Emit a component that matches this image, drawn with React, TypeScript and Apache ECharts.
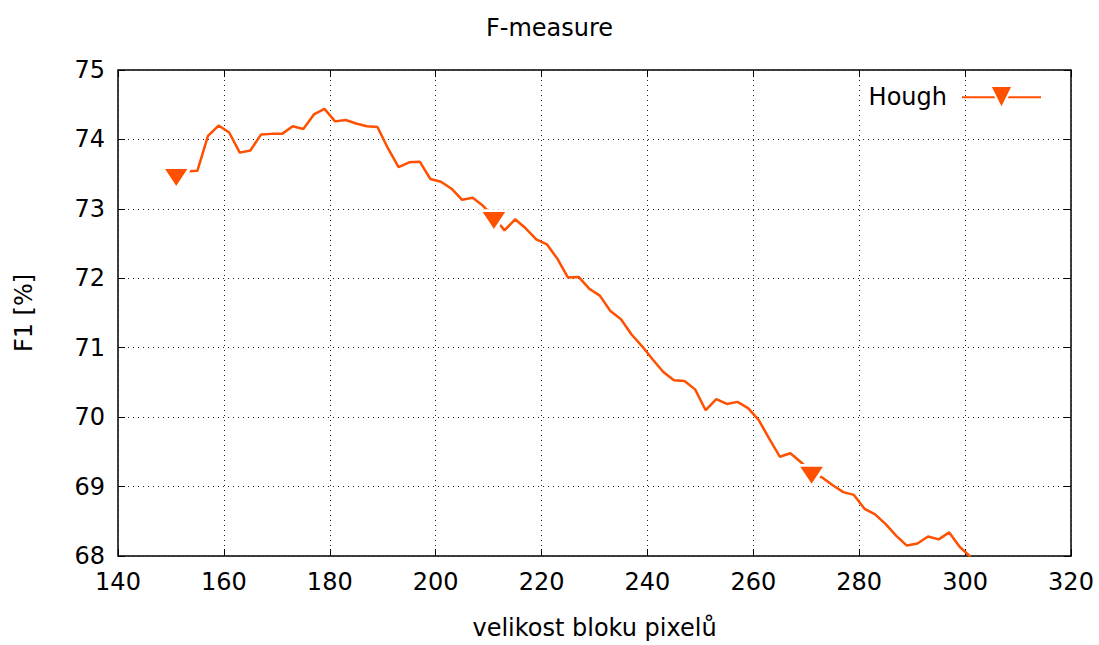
import React, { useEffect, useRef } from "react";
import * as echarts from "echarts";

const blockSizes: number[] = [
  151, 153, 155, 157, 159, 161, 163, 165, 167, 169, 171, 173, 175, 177, 179, 181, 183, 185, 187, 189,
  191, 193, 195, 197, 199, 201, 203, 205, 207, 209, 211, 213, 215, 217, 219, 221, 223, 225, 227, 229,
  231, 233, 235, 237, 239, 241, 243, 245, 247, 249, 251, 253, 255, 257, 259, 261, 263, 265, 267, 269,
  271, 273, 275, 277, 279, 281, 283, 285, 287, 289, 291, 293, 295, 297, 299, 301,
];

const houghF1: number[] = [
  73.5, 73.54, 73.55, 74.05, 74.2, 74.1, 73.81, 73.84, 74.07, 74.08, 74.08, 74.19, 74.15, 74.36, 74.44, 74.26, 74.28, 74.23, 74.19, 74.18,
  73.87, 73.6, 73.67, 73.68, 73.43, 73.39, 73.29, 73.13, 73.16, 73.04, 72.88, 72.69, 72.85, 72.72, 72.56, 72.49, 72.28, 72.01, 72.02, 71.85,
  71.75, 71.53, 71.41, 71.19, 71.02, 70.83, 70.65, 70.53, 70.52, 70.4, 70.1, 70.26, 70.19, 70.22, 70.13, 69.96, 69.69, 69.43, 69.48, 69.35,
  69.21, 69.13, 69.02, 68.92, 68.88, 68.68, 68.6, 68.46, 68.29, 68.15, 68.18, 68.28, 68.24, 68.34, 68.13, 67.99,
];

const markerEvery = 30;
const seriesName = "Hough";
const titleText = "F-measure";
const xName = "velikost bloku pixelů";
const yName = "F1 [%]";

const COLOR = "#ff5000";
const FONT = "DejaVu Sans";
const FS = 24;

export default function App() {
  const ref = useRef<HTMLDivElement>(null);

  useEffect(() => {
    if (!ref.current) return;
    const chart = echarts.init(ref.current, undefined, { renderer: "svg" });

    const data = blockSizes.map((x, i) =>
      i % markerEvery === 0
        ? { value: [x, houghF1[i]] }
        : { value: [x, houghF1[i]], symbol: "none" }
    );

    const gridLine = { show: true, lineStyle: { color: "#222", type: [1, 4] as any, width: 1 } };
    const tick = { show: true, inside: true, length: 7, lineStyle: { color: "#000", width: 1 } };

    chart.setOption({
      animation: false,
      backgroundColor: "#fff",
      title: {
        text: titleText,
        left: "center",
        top: 11,
        textStyle: { fontFamily: FONT, fontSize: FS, fontWeight: "normal", color: "#000" },
      },
      legend: {
        right: 52,
        top: 80,
        align: "right",
        itemWidth: 79,
        itemHeight: 28,
        textStyle: { fontFamily: FONT, fontSize: FS, color: "#000", padding: [0, 10, 0, 0] },
        data: [seriesName],
      },
      grid: {
        left: 118,
        top: 70,
        right: 28,
        bottom: 85,
        show: true,
        borderColor: "#000",
        borderWidth: 1.5,
        backgroundColor: "transparent",
      },
      xAxis: [
        {
          type: "value",
          min: 140,
          max: 320,
          interval: 20,
          position: "bottom",
          name: xName,
          nameLocation: "middle",
          nameGap: 60,
          nameTextStyle: { fontFamily: FONT, fontSize: FS, color: "#000" },
          axisLine: { show: false },
          axisTick: tick,
          axisLabel: { fontFamily: FONT, fontSize: FS, color: "#000", margin: 14 },
          splitLine: gridLine,
        },
        {
          type: "value",
          min: 140,
          max: 320,
          interval: 20,
          position: "top",
          axisLine: { show: false },
          axisTick: tick,
          axisLabel: { show: false },
          splitLine: { show: false },
        },
      ],
      yAxis: [
        {
          type: "value",
          min: 68,
          max: 75,
          interval: 1,
          position: "left",
          name: yName,
          nameLocation: "middle",
          nameGap: 82,
          nameTextStyle: { fontFamily: FONT, fontSize: FS, color: "#000" },
          axisLine: { show: false },
          axisTick: tick,
          axisLabel: { fontFamily: FONT, fontSize: FS, color: "#000", margin: 13 },
          splitLine: gridLine,
        },
        {
          type: "value",
          min: 68,
          max: 75,
          interval: 1,
          position: "right",
          axisLine: { show: false },
          axisTick: tick,
          axisLabel: { show: false },
          splitLine: { show: false },
        },
      ],
      series: [
        {
          name: seriesName,
          type: "line",
          xAxisIndex: 0,
          yAxisIndex: 0,
          data,
          showSymbol: true,
          symbol: "path://M0,0 L22,0 L11,19 Z",
          symbolSize: [28, 24.5],
          symbolOffset: [0, 4],
          symbolKeepAspect: true,
          clip: true,
          lineStyle: { color: COLOR, width: 2.5 },
          itemStyle: { color: COLOR, borderColor: "#fff", borderWidth: 3 },
          emphasis: { disabled: true },
        },
      ],
    });

    return () => chart.dispose();
  }, []);

  return (
    <div
      ref={ref}
      style={{ position: "fixed", left: 0, top: 0, width: 1099, height: 645, background: "#fff" }}
    />
  );
}
